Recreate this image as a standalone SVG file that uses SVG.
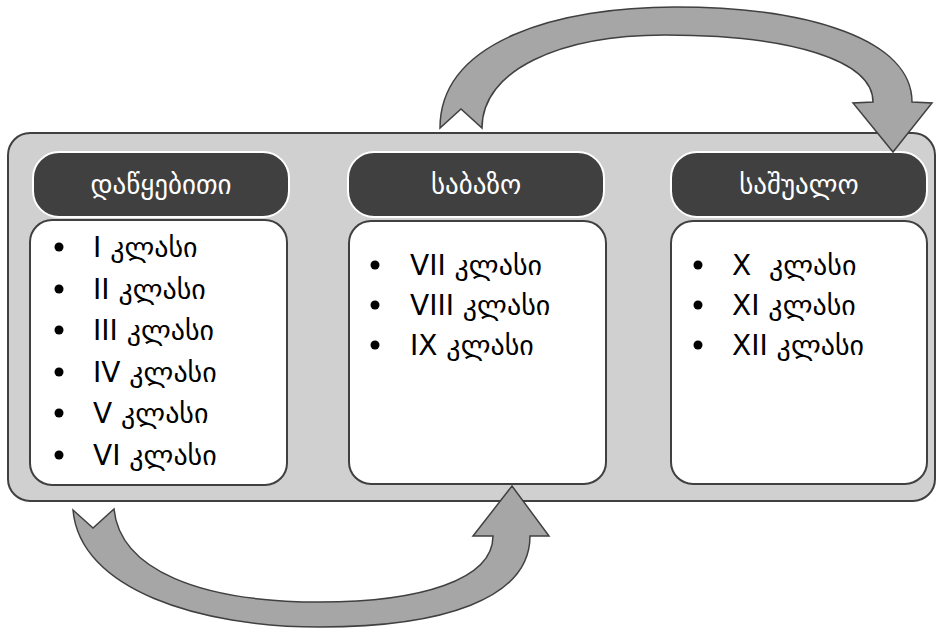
<svg xmlns="http://www.w3.org/2000/svg" width="937" height="628" viewBox="0 0 937 628">
<style>
.panel{fill:#d0d0d0;stroke:#404040;stroke-width:2}
.hdr{fill:#404040;stroke:#ffffff;stroke-width:2}
.box{fill:#ffffff;stroke:#404040;stroke-width:2}
.arrow{fill:#a6a6a6;stroke:#404040;stroke-width:1.5;stroke-linejoin:miter}
.ht{fill:#ffffff;font-family:"DejaVu Sans",sans-serif;font-size:27px;text-anchor:middle}
.li{fill:#000000;font-family:"DejaVu Sans",sans-serif;font-size:28px}
.bul{fill:#000000}
</style>
<rect class="panel" x="8" y="133" width="927" height="368" rx="22"/>
<g id="node-primary">
<rect class="hdr" x="33" y="152" width="256" height="65" rx="26"/>
<text class="ht" x="161" y="194">დაწყებითი</text>
<rect class="box" x="30" y="220" width="257" height="265" rx="22"/>
<circle class="bul" cx="59" cy="247" r="4.5"/><text class="li" x="93" y="257">I კლასი</text>
<circle class="bul" cx="59" cy="289" r="4.5"/><text class="li" x="93" y="299">II კლასი</text>
<circle class="bul" cx="59" cy="330" r="4.5"/><text class="li" x="93" y="340">III კლასი</text>
<circle class="bul" cx="59" cy="372" r="4.5"/><text class="li" x="93" y="382">IV კლასი</text>
<circle class="bul" cx="59" cy="413" r="4.5"/><text class="li" x="93" y="423">V კლასი</text>
<circle class="bul" cx="59" cy="455" r="4.5"/><text class="li" x="93" y="465">VI კლასი</text>
</g>
<g id="node-basic">
<rect class="hdr" x="348" y="152" width="256" height="65" rx="26"/>
<text class="ht" x="476" y="194">საბაზო</text>
<rect class="box" x="349" y="221" width="257" height="263" rx="22"/>
<circle class="bul" cx="375" cy="265" r="4.5"/><text class="li" x="410" y="275">VII კლასი</text>
<circle class="bul" cx="375" cy="305" r="4.5"/><text class="li" x="410" y="315">VIII კლასი</text>
<circle class="bul" cx="375" cy="345" r="4.5"/><text class="li" x="410" y="355">IX კლასი</text>
</g>
<g id="node-secondary">
<rect class="hdr" x="671" y="152" width="256" height="65" rx="26"/>
<text class="ht" x="799" y="194">საშუალო</text>
<rect class="box" x="671" y="221" width="256" height="263" rx="22"/>
<circle class="bul" cx="698" cy="265" r="4.5"/><text class="li" x="732" y="275" xml:space="preserve">X  კლასი</text>
<circle class="bul" cx="698" cy="305" r="4.5"/><text class="li" x="732" y="315">XI კლასი</text>
<circle class="bul" cx="698" cy="345" r="4.5"/><text class="li" x="732" y="355">XII კლასი</text>
</g>
<g id="connectors">
<path class="arrow" d="M440,128 C440,40 560,7 675,7 C810,7 912,40 912,102 L932,103 L893,152 L853,103 L873,102 C873,60 790,35 665,35 C560,35 482,70 482,128 L461,109 Z"/>
<path class="arrow" d="M73,510 C80,590 200,627 320,627 C440,627 530,600 530,536 L549,536 L512,486 L473,536 L493,536 C493,580 420,602 320,602 C200,602 120,570 114,509 L93,528 Z"/>
</g>
</svg>
